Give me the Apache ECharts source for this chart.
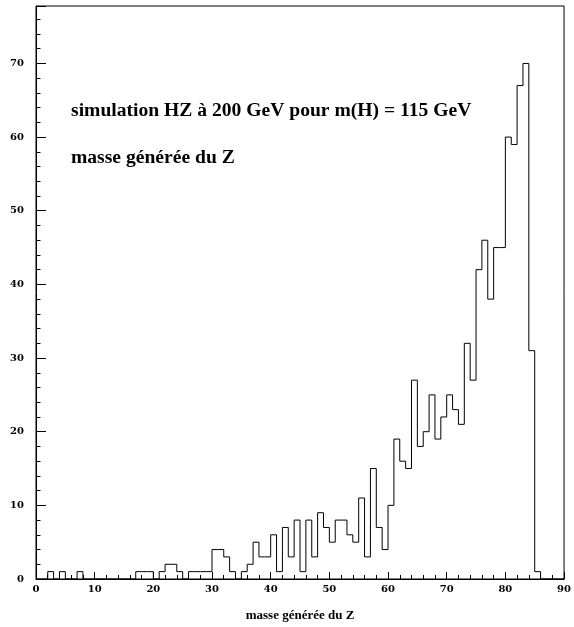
<!DOCTYPE html>
<html>
<head>
<meta charset="utf-8">
<script src="https://cdn.jsdelivr.net/npm/echarts@6/dist/echarts.min.js"></script>
<style>
  html, body { margin: 0; padding: 0; background: #fff; }
  #histo { width: 574px; height: 627px; }
</style>
</head>
<body>
<div id="histo"></div>
<script>
// bins de 1 GeV, de 0 à 90
var binLow = 0;
var binWidth = 1;
var nBins = 90;

// contenu de chaque bin
var counts = [
  0, 0, 1, 0, 1, 0, 0, 1, 0, 0,
  0, 0, 0, 0, 0, 0, 0, 1, 1, 1,
  0, 1, 2, 2, 1, 0, 1, 1, 1, 1,
  4, 4, 3, 1, 0, 1, 2, 5, 3, 3,
  6, 1, 7, 3, 8, 1, 8, 3, 9, 7,
  5, 8, 8, 6, 5, 11, 3, 15, 7, 4,
  10, 19, 16, 15, 27, 18, 20, 25, 19, 22,
  25, 23, 21, 32, 27, 42, 46, 38, 45, 45,
  60, 59, 67, 70, 31, 1, 0, 0, 0, 0
];

var xTicks = [0, 10, 20, 30, 40, 50, 60, 70, 80, 90];
var yMax = 77.8;

var titleText = 'simulation HZ à 200 GeV pour m(H) = 115 GeV';
var subText = 'masse générée du Z';
var xName = 'masse générée du Z';

// contour du histogramme : un point par bord gauche de bin + le dernier bord
var stepData = counts.map(function (c, i) {
  return [binLow + i * binWidth, c];
});
stepData.push([binLow + nBins * binWidth, counts[nBins - 1]]);

var chart = echarts.init(document.getElementById('histo'));

var tickFont = {
  color: '#000',
  fontFamily: 'DejaVu Serif',
  fontWeight: 'bold',
  fontSize: 10
};

var option = {
  backgroundColor: '#fff',
  animation: false,
  grid: {
    left: 36,
    top: 6,
    width: 535,
    height: 575,
    show: true,
    borderColor: '#000',
    borderWidth: 1,
    backgroundColor: 'transparent'
  },
  xAxis: {
    type: 'value',
    min: xTicks[0],
    max: xTicks[xTicks.length - 1],
    interval: 10,
    name: xName,
    nameLocation: 'middle',
    nameGap: 30,
    nameTextStyle: {
      color: '#000',
      fontFamily: 'Liberation Serif',
      fontWeight: 'bold',
      fontSize: 13
    },
    axisLine: { show: true, lineStyle: { color: '#000', width: 1 } },
    axisTick: { show: true, inside: true, length: 7, lineStyle: { color: '#000' } },
    minorTick: { show: true, splitNumber: 5, length: 4, lineStyle: { color: '#000' } },
    axisLabel: Object.assign({ margin: 5 }, tickFont),
    splitLine: { show: false }
  },
  yAxis: [
    {
      type: 'value',
      min: 0,
      max: yMax,
      interval: 10,
      axisLine: { show: true, lineStyle: { color: '#000', width: 1 } },
      axisTick: { show: true, inside: true, length: 10, lineStyle: { color: '#000' } },
      axisLabel: Object.assign({
        margin: 12,
        formatter: function (v) { return v % 10 === 0 ? String(v) : ''; }
      }, tickFont),
      splitLine: { show: false }
    },
    {
      // petites graduations tous les 2
      type: 'value',
      position: 'left',
      min: 0,
      max: yMax,
      interval: 2,
      axisLine: { show: false },
      axisTick: { show: true, inside: true, length: 4.5, lineStyle: { color: '#000' } },
      axisLabel: { show: false },
      splitLine: { show: false }
    }
  ],
  series: [
    {
      type: 'line',
      step: 'end',
      yAxisIndex: 0,
      data: stepData,
      symbol: 'none',
      lineStyle: { color: '#000', width: 1 },
      silent: true
    }
  ],
  graphic: [
    {
      type: 'text',
      left: 71,
      top: 101,
      style: {
        text: titleText,
        fill: '#000',
        font: 'bold 19.6px "Liberation Serif"'
      }
    },
    {
      type: 'text',
      left: 71,
      top: 148,
      style: {
        text: subText,
        fill: '#000',
        font: 'bold 19.6px "Liberation Serif"'
      }
    }
  ]
};

chart.setOption(option);
</script>
</body>
</html>
